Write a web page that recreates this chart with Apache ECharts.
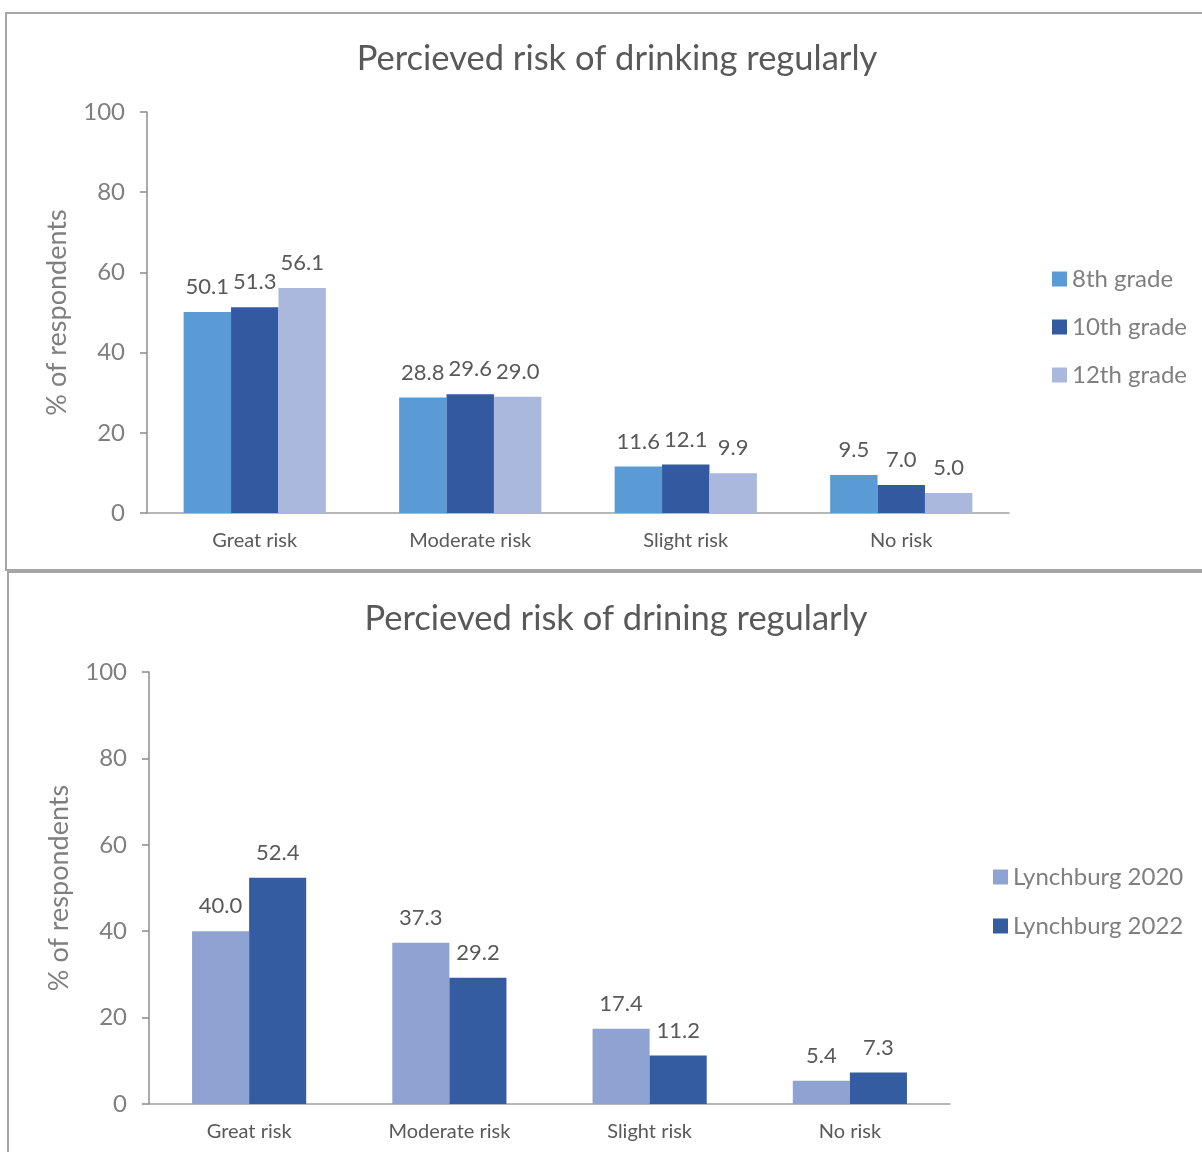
<!DOCTYPE html>
<html>
<head>
<meta charset="utf-8">
<script src="https://cdn.jsdelivr.net/npm/echarts@6/dist/echarts.min.js"></script>
<style>
  html, body { margin: 0; padding: 0; background: #fff; }
  #main { width: 1202px; height: 1152px; }
</style>
</head>
<body>
<div id="main"></div>
<script>
// categories shared by both charts
var categories = ['Great risk', 'Moderate risk', 'Slight risk', 'No risk'];

// top chart, by grade
var grade8 = [50.1, 28.8, 11.6, 9.5];
var grade10 = [51.3, 29.6, 12.1, 7.0];
var grade12 = [56.1, 29.0, 9.9, 5.0];

// bottom chart, by year
var lyn2020 = [40.0, 37.3, 17.4, 5.4];
var lyn2022 = [52.4, 29.2, 11.2, 7.3];

var FONT = 'Lato';
var gray = '#7f7f7f';
var dark = '#595959';

var chart = echarts.init(document.getElementById('main'));

function barLabel() {
  return {
    show: true,
    position: 'top',
    distance: 14,
    color: dark,
    fontFamily: FONT,
    fontSize: 22,
    formatter: function (p) { return p.value.toFixed(1); }
  };
}

function yAxis(idx) {
  return {
    type: 'value',
    gridIndex: idx,
    min: 0,
    max: 100,
    interval: 20,
    name: '% of respondents',
    nameLocation: 'middle',
    nameGap: 76,
    nameRotate: 90,
    nameTextStyle: { color: gray, fontFamily: FONT, fontSize: 27 },
    axisLine: { show: true, lineStyle: { color: '#8c8c8c', width: 1.5 } },
    axisTick: { show: true, length: 7, lineStyle: { color: '#8c8c8c', width: 1.5 } },
    splitLine: { show: false },
    axisLabel: { color: gray, fontFamily: FONT, fontSize: 24, margin: 22 }
  };
}

function xAxis(idx) {
  return {
    type: 'category',
    gridIndex: idx,
    data: categories,
    axisLine: { show: true, lineStyle: { color: '#a0a0a0', width: 1.5 } },
    axisTick: { show: false },
    axisLabel: { color: dark, fontFamily: FONT, fontSize: 20, margin: 18 }
  };
}

var option = {
  backgroundColor: '#fff',
  animation: false,
  graphic: [
    {
      type: 'rect',
      shape: { x: 6, y: 13, width: 1220, height: 557 },
      style: { fill: 'none', stroke: '#a6a6a6', lineWidth: 2 }
    },
    {
      type: 'rect',
      shape: { x: 8, y: 572, width: 1220, height: 620 },
      style: { fill: 'none', stroke: '#a6a6a6', lineWidth: 2 }
    }
  ],
  title: [
    {
      text: 'Percieved risk of drinking regularly',
      left: 612, top: 36, textAlign: 'center',
      textStyle: { color: dark, fontFamily: FONT, fontSize: 34.5, fontWeight: 'normal' }
    },
    {
      text: 'Percieved risk of drining regularly',
      left: 611, top: 596, textAlign: 'center',
      textStyle: { color: dark, fontFamily: FONT, fontSize: 34.5, fontWeight: 'normal' }
    }
  ],
  legend: [
    {
      data: ['8th grade', '10th grade', '12th grade'],
      orient: 'vertical',
      left: 1047, top: 261,
      icon: 'rect',
      itemWidth: 15, itemHeight: 15, itemGap: 22,
      textStyle: { color: gray, fontFamily: FONT, fontSize: 24, lineHeight: 26 }
    },
    {
      data: ['Lynchburg 2020', 'Lynchburg 2022'],
      orient: 'vertical',
      left: 988, top: 859,
      icon: 'rect',
      itemWidth: 15, itemHeight: 15, itemGap: 23,
      textStyle: { color: gray, fontFamily: FONT, fontSize: 24, lineHeight: 26 }
    }
  ],
  grid: [
    { left: 147, top: 112, width: 862, height: 401 },
    { left: 149, top: 672, width: 801, height: 432 }
  ],
  xAxis: [xAxis(0), xAxis(1)],
  yAxis: [yAxis(0), yAxis(1)],
  series: [
    { name: '8th grade', type: 'bar', xAxisIndex: 0, yAxisIndex: 0, data: grade8,
      itemStyle: { color: '#5b9bd5' }, barGap: '0%', barCategoryGap: '34%', label: barLabel() },
    { name: '10th grade', type: 'bar', xAxisIndex: 0, yAxisIndex: 0, data: grade10,
      itemStyle: { color: '#335aa1' }, barGap: '0%', barCategoryGap: '34%', label: barLabel() },
    { name: '12th grade', type: 'bar', xAxisIndex: 0, yAxisIndex: 0, data: grade12,
      itemStyle: { color: '#a9b8dc' }, barGap: '0%', barCategoryGap: '34%', label: barLabel() },
    { name: 'Lynchburg 2020', type: 'bar', xAxisIndex: 1, yAxisIndex: 1, data: lyn2020,
      itemStyle: { color: '#8fa3d3' }, barGap: '0%', barCategoryGap: '43%', label: barLabel() },
    { name: 'Lynchburg 2022', type: 'bar', xAxisIndex: 1, yAxisIndex: 1, data: lyn2022,
      itemStyle: { color: '#345ca0' }, barGap: '0%', barCategoryGap: '43%', label: barLabel() }
  ]
};

chart.setOption(option);
</script>
</body>
</html>
